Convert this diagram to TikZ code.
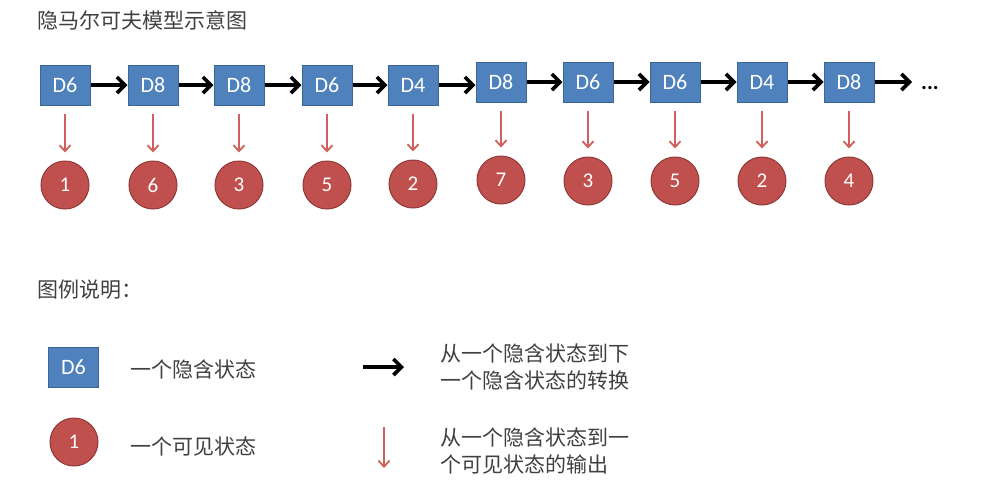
\documentclass[tikz,border=0pt]{standalone}
\usepackage{fontspec}
\newfontfamily\cjk{Noto Sans CJK SC}
\newfontfamily\latinsans{Carlito}
\usetikzlibrary{arrows.meta}
\definecolor{boxfill}{HTML}{4F81BD}
\definecolor{boxline}{HTML}{3B6597}
\definecolor{cirfill}{HTML}{C0504D}
\definecolor{cirline}{HTML}{8E3B39}
\definecolor{redarrow}{HTML}{D0605D}
\definecolor{txtgray}{HTML}{404040}
\tikzset{
  hstate/.style={draw=boxline, fill=boxfill, line width=1pt, minimum width=50pt, minimum height=40pt, inner sep=0pt, text=white, font=\latinsans\fontsize{22}{22}\selectfont},
  vstate/.style={circle, draw=cirline, fill=cirfill, line width=1pt, minimum size=48pt, inner sep=0pt, text=white, font=\latinsans\fontsize{21}{21}\selectfont},
  harrow/.style={line width=3.6pt, black, -{Straight Barb[length=8pt,width=16pt]}},
  oarrow/.style={line width=1.8pt, redarrow, -{Straight Barb[length=6pt,width=11pt]}},
  lbl/.style={text=txtgray, font=\cjk\fontsize{21}{27}\selectfont, anchor=west, inner sep=0pt, align=left},
}
\begin{document}
\begin{tikzpicture}[x=1pt,y=-1pt]
\useasboundingbox (0,0) rectangle (989,491);
\node[lbl] (title) at (37,20) {隐马尔可夫模型示意图};
% hidden states
\node[hstate] (b1) at (65,85) {D6};
\node[hstate] (b2) at (153,85) {D8};
\node[hstate] (b3) at (239,85) {D8};
\node[hstate] (b4) at (327,85) {D6};
\node[hstate] (b5) at (413,85) {D4};
\node[hstate] (b6) at (501,82) {D8};
\node[hstate] (b7) at (588,82) {D6};
\node[hstate] (b8) at (675,82) {D6};
\node[hstate] (b9) at (762,82) {D4};
\node[hstate] (b10) at (849,82) {D8};
% visible states
\node[vstate] (c1) at (65,185) {1};
\node[vstate] (c2) at (153,185) {6};
\node[vstate] (c3) at (239,185) {3};
\node[vstate] (c4) at (327,185) {5};
\node[vstate] (c5) at (413,184) {2};
\node[vstate] (c6) at (501,180) {7};
\node[vstate] (c7) at (588,181) {3};
\node[vstate] (c8) at (675,181) {5};
\node[vstate] (c9) at (762,181) {2};
\node[vstate] (c10) at (849,181) {4};
% transitions
\foreach \i/\j in {1/2,2/3,3/4,4/5,6/7,7/8,8/9,9/10}
  \draw[harrow] (b\i.east) -- (b\j.west);
\draw[harrow] (b5.east) -- (b6.west |- b5.east);
\coordinate (tail) at (912,82);
\draw[harrow] (b10.east) -- (tail);
\node[text=black, font=\latinsans\bfseries\fontsize{22}{22}\selectfont, anchor=west, inner sep=0pt] (dots) at (921,88) {...};
% emissions
\foreach \i in {1,...,10}
  \draw[oarrow, shorten <=8pt, shorten >=8pt] (b\i.south) -- (c\i.north);
% legend
\node[lbl] (legtitle) at (37,290) {图例说明：};
\node[hstate] (lb) at (73.5,367) {D6};
\node[lbl] (lbt) at (130,369) {一个隐含状态};
\node[vstate] (lc) at (74,442) {1};
\node[lbl] (lct) at (130,446) {一个可见状态};
\coordinate (la1) at (363,367);
\coordinate (la2) at (404,367);
\draw[harrow] (la1) -- (la2);
\coordinate (lr1) at (384,427);
\coordinate (lr2) at (384,468);
\draw[oarrow] (lr1) -- (lr2);
\node[lbl] (lat) at (440,367) {从一个隐含状态到下\\一个隐含状态的转换};
\node[lbl] (lrt) at (440,451) {从一个隐含状态到一\\个可见状态的输出};
\end{tikzpicture}
\end{document}
